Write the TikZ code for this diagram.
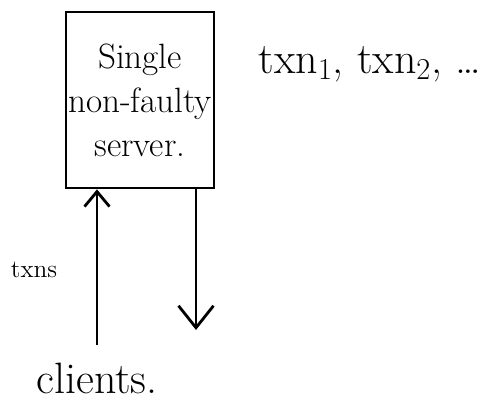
\documentclass[tikz,border=0pt]{standalone}
\usetikzlibrary{arrows.meta}
\begin{document}
\begin{tikzpicture}[x=0.02cm, y=-0.02cm, line width=1.6pt]
    \useasboundingbox (0,0) rectangle (497,402);
    \node[draw, minimum width=2.96cm, minimum height=3.52cm, align=center, inner sep=1pt, font=\fontsize{20}{25}\selectfont] (server) at (140,100){Single\\non-faulty\\server.};
    \node[font=\fontsize{25}{30}\selectfont] (log) at (370,64){txn$_1$, txn$_2$, \dots};
    \node[font=\fontsize{25}{30}\selectfont] (clients) at (97,378){clients.};
    \node[font=\Large] (txns) at (34,270){txns};
    \coordinate (in) at (97,345);
    \coordinate (out) at (196,330);
    \draw[-{Straight Barb[length=3mm, width=5mm]}](in) -- (in |- server.south);
    \draw[-{Straight Barb[length=4.4mm, width=7mm]}](out |- server.south) -- (out);
  \end{tikzpicture}
\end{document}
